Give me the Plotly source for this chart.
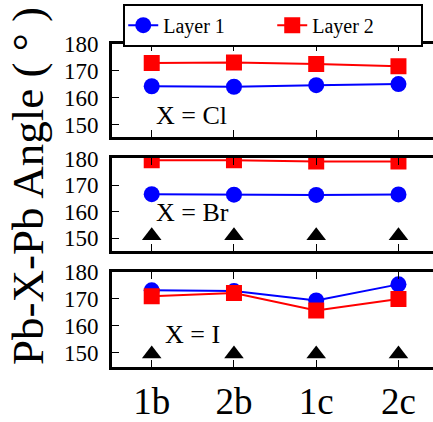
import plotly.graph_objects as go

categories = ["1b", "2b", "1c", "2c"]
panel_labels = ["X = Cl", "X = Br", "X = I"]
y_ticks = [150, 160, 170, 180]

cl_layer1 = [164.3, 164.1, 164.7, 165.1]
cl_layer2 = [172.9, 173.1, 172.6, 171.7]
br_layer1 = [166.6, 166.4, 166.3, 166.5]
br_layer2 = [179.3, 179.3, 178.9, 178.9]
br_marks = [151.0, 151.0, 151.0, 151.0]
i_layer1 = [173.1, 172.8, 169.3, 175.3]
i_layer2 = [170.9, 172.1, 165.6, 169.9]
i_marks = [149.4, 149.4, 149.4, 149.4]

panels = [
    (cl_layer1, cl_layer2, None),
    (br_layer1, br_layer2, br_marks),
    (i_layer1, i_layer2, i_marks),
]

FONT = "Liberation Serif"
BLUE = "#0000FF"
RED = "#FF0000"

xpos = list(range(len(categories)))
fig = go.Figure()

for k, (l1, l2, tri) in enumerate(panels):
    xa = "x" if k == 0 else f"x{k+1}"
    ya = "y" if k == 0 else f"y{k+1}"
    fig.add_trace(go.Scatter(x=xpos, y=l1, mode="lines+markers", name="Layer 1",
                             line=dict(color=BLUE, width=2),
                             marker=dict(symbol="circle", size=16, color=BLUE),
                             xaxis=xa, yaxis=ya, showlegend=(k == 0), legendgroup="l1"))
    fig.add_trace(go.Scatter(x=xpos, y=l2, mode="lines+markers", name="Layer 2",
                             line=dict(color=RED, width=2),
                             marker=dict(symbol="square", size=16, color=RED),
                             xaxis=xa, yaxis=ya, showlegend=(k == 0), legendgroup="l2"))
    if tri is not None:
        fig.add_trace(go.Scatter(x=xpos, y=tri, mode="markers",
                                 marker=dict(symbol="triangle-up", size=17, color="black"),
                                 xaxis=xa, yaxis=ya, showlegend=False))

domains = [[0.711, 1.0], [0.358, 0.648], [0.0, 0.295]]
yranges = [[145.3, 180.0], [145.1, 180.3], [144.6, 180.0]]
xrange_ = [-0.483, 3.42]

layout = dict(
    width=433, height=422,
    margin=dict(l=112, r=0, t=44, b=46),
    paper_bgcolor="white", plot_bgcolor="white",
    font=dict(family=FONT, color="black"),
    showlegend=True,
    legend=dict(orientation="h", x=0.035, xanchor="left", y=1.125, yanchor="top",
                bordercolor="black", borderwidth=2, bgcolor="white",
                font=dict(family=FONT, size=20, color="black"),
                entrywidth=104, entrywidthmode="pixels"),
)

for k in range(3):
    sx = "" if k == 0 else str(k + 1)
    ya_name = "y" + sx
    xa_name = "x" + sx
    layout["xaxis" + sx] = dict(
        domain=[0, 1], anchor=ya_name, range=xrange_,
        tickmode="array", tickvals=xpos, ticktext=categories,
        showticklabels=(k == 2), ticks="inside", ticklen=7, tickwidth=1,
        tickcolor="black", showline=True, linecolor="black", linewidth=3,
        mirror="ticks", showgrid=False, zeroline=False,
        tickfont=dict(family=FONT, size=37, color="black"),
    )
    layout["yaxis" + sx] = dict(
        domain=domains[k], anchor=xa_name, range=yranges[k],
        tickmode="array", tickvals=y_ticks,
        ticks="inside", ticklen=7, tickwidth=1, tickcolor="black",
        showline=True, linecolor="black", linewidth=3, mirror=False,
        showgrid=False, zeroline=False, ticklabelstandoff=6,
        tickfont=dict(family=FONT, size=23, color="black"),
    )
    # right-side tick marks (the right frame edge lies outside the picture)
    layout["yaxis" + str(k + 4)] = dict(
        overlaying=ya_name, side="right", anchor=xa_name, range=yranges[k],
        tickmode="array", tickvals=y_ticks, showticklabels=False,
        ticks="inside", ticklen=6, tickwidth=1, tickcolor="black",
        showline=False, showgrid=False, zeroline=False,
    )

fig.update_layout(**layout)

ann_pos = [(0.48, 153.3), (0.49, 159.8), (0.49, 156.8)]
for k, label in enumerate(panel_labels):
    sx = "" if k == 0 else str(k + 1)
    fig.add_annotation(x=ann_pos[k][0], y=ann_pos[k][1], xref="x" + sx, yref="y" + sx,
                       text=label, showarrow=False,
                       font=dict(family=FONT, size=26, color="black"))

fig.add_annotation(x=-0.262, y=0.56, xref="paper", yref="paper", xanchor="center",
                   yanchor="middle", textangle=-90, text="Pb-X-Pb Angle ( ° )",
                   showarrow=False, font=dict(family=FONT, size=45, color="black"))

fig.write_html("out.html")
